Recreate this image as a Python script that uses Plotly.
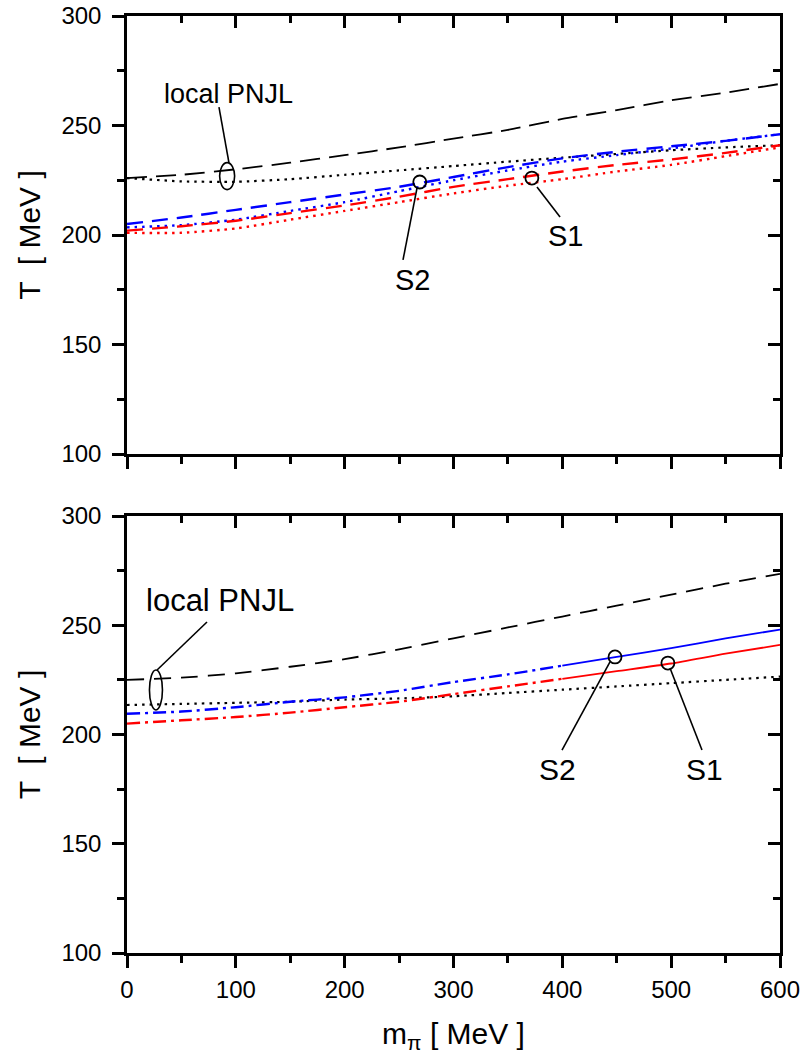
import plotly.graph_objects as go

# ---------------- data ----------------
m_pi = [0, 50, 100, 150, 200, 250, 300, 350, 400, 450, 500, 550, 600]

# upper panel
top_local_dash = [226, 227.5, 230, 233, 236.5, 240, 244, 248, 253, 257, 261.5, 265, 269]
top_local_dot = [226, 224.5, 224.3, 225.5, 227.5, 229.5, 231.5, 233.5, 235.3, 237, 238.7, 240, 241]
top_blue_dash = [205, 208, 211.5, 215, 218.5, 222, 226.5, 231, 235, 238, 240.5, 243, 246]
top_blue_dot = [203.5, 204.5, 207, 211, 215, 220, 225, 229.5, 233.5, 236.5, 239.5, 243, 246]
top_red_dash = [202, 204, 206.5, 210, 213.5, 217.5, 222, 225.5, 229, 232, 234.5, 237.5, 241]
top_red_dot = [201, 201, 203, 207, 211, 215, 219, 222.5, 225.5, 229, 232, 236, 240]

# lower panel
bot_local_dash = [225, 226, 228, 231, 234.5, 239, 244, 249, 254, 259, 264, 269, 273.5]
bot_local_dot = [213.5, 214, 214.5, 215, 216, 216.5, 217.5, 219, 220.5, 222, 223.5, 225, 226.5]
bot_blue = [209.5, 210.5, 212.5, 215, 217, 220, 224, 227.5, 231.5, 235.5, 239.5, 244, 248]
bot_red = [205, 206.5, 208, 210, 212.5, 215, 218.5, 222, 225.5, 229, 232.5, 237, 241]
split_index = 8  # dash-dot below, solid above m_pi = 400

# marked points (S1, S2)
top_s_m = [269, 372]
top_s_T = [224.2, 226]
bot_s_m = [448.4, 497]
bot_s_T = [235.5, 232.7]

x_ticks = [0, 100, 200, 300, 400, 500, 600]
y_ticks = [100, 150, 200, 250, 300]

FONT = "Liberation Sans, Arial, Helvetica, sans-serif"
BLUE = "#0000ff"
RED = "#ff0000"

fig = go.Figure()


def line(x, y, color, dash, xa, ya, width=2):
    fig.add_trace(go.Scatter(x=x, y=y, mode="lines", xaxis=xa, yaxis=ya,
                             line=dict(color=color, dash=dash, width=width, shape="spline", smoothing=0.6),
                             showlegend=False, hoverinfo="skip"))


LONGDASH = "20px,9px"
DOTS = "2.5px,5px"
CDASH = "16px,9px"
DASHDOT = "13px,5px,3px,5px"

# top panel
line(m_pi, top_local_dash, "black", LONGDASH, "x", "y", 1.8)
line(m_pi, top_local_dot, "black", DOTS, "x", "y", 2.2)
line(m_pi, top_blue_dash, BLUE, CDASH, "x", "y", 2.4)
line(m_pi, top_blue_dot, BLUE, DOTS, "x", "y", 2.4)
line(m_pi, top_red_dash, RED, CDASH, "x", "y", 2.4)
line(m_pi, top_red_dot, RED, DOTS, "x", "y", 2.4)

# bottom panel
line(m_pi, bot_local_dash, "black", "17px,10px", "x2", "y2", 1.8)
line(m_pi, bot_local_dot, "black", DOTS, "x2", "y2", 2.2)
line(m_pi[:split_index + 1], bot_blue[:split_index + 1], BLUE, DASHDOT, "x2", "y2", 2.4)
line(m_pi[split_index:], bot_blue[split_index:], BLUE, "solid", "x2", "y2", 1.8)
line(m_pi[:split_index + 1], bot_red[:split_index + 1], RED, DASHDOT, "x2", "y2", 2.4)
line(m_pi[split_index:], bot_red[split_index:], RED, "solid", "x2", "y2", 1.8)

# circles marking S1 / S2 (on overlay axes so they are drawn)
fig.add_trace(go.Scatter(x=top_s_m, y=top_s_T, mode="markers", xaxis="x3", yaxis="y3",
                         marker=dict(symbol="circle-open", size=13, color="black", line=dict(width=1.8)),
                         showlegend=False, hoverinfo="skip"))
fig.add_trace(go.Scatter(x=bot_s_m, y=bot_s_T, mode="markers", xaxis="x4", yaxis="y4",
                         marker=dict(symbol="circle-open", size=13, color="black", line=dict(width=1.8)),
                         showlegend=False, hoverinfo="skip"))

# ---------------- layout ----------------
xdom = [127 / 804, 780 / 804]
top_dom = [1 - 454 / 1059, 1 - 16 / 1059]
bot_dom = [1 - 953 / 1059, 1 - 516 / 1059]

tickfont = dict(family=FONT, size=24, color="black")
common = dict(showline=True, linewidth=2.5, linecolor="black", showgrid=False, zeroline=False,
              ticklen=12, tickwidth=2.5, tickcolor="black", tickfont=tickfont, automargin=False)


def xax(domain, anchor, side, ticks, labels, title=None, overlaying=None):
    d = dict(common, domain=domain, anchor=anchor, side=side, ticks=ticks, range=[0, 600],
             tickvals=x_ticks, showticklabels=labels, ticklabelstandoff=1,
             minor=dict(dtick=50, tick0=0, ticklen=7, tickwidth=2.5, tickcolor="black", ticks=ticks, showgrid=False))
    if overlaying:
        d["overlaying"] = overlaying
    if title:
        d["title"] = dict(text=title, font=dict(family=FONT, size=30, color="black"), standoff=22)
    return d


def yax(domain, anchor, side, ticks, labels, title=None, overlaying=None):
    d = dict(common, domain=domain, anchor=anchor, side=side, ticks=ticks, range=[100, 300],
             tickvals=y_ticks, showticklabels=labels, ticklabelstandoff=6,
             minor=dict(dtick=25, tick0=100, ticklen=7, tickwidth=2.5, tickcolor="black", ticks=ticks, showgrid=False))
    if overlaying:
        d["overlaying"] = overlaying
    if title:
        d["title"] = dict(text=title, font=dict(family=FONT, size=30, color="black"), standoff=12)
    return d


fig.update_layout(
    width=804, height=1059,
    margin=dict(l=0, r=0, t=0, b=0, autoexpand=False),
    paper_bgcolor="white", plot_bgcolor="white",
    font=dict(family=FONT, color="black"),
    xaxis=xax(xdom, "y", "bottom", "outside", False),
    yaxis=yax(top_dom, "x", "left", "outside", True, "T  [ MeV ]"),
    xaxis2=xax(xdom, "y2", "bottom", "outside", True, "m<sub>π</sub> [ MeV ]"),
    yaxis2=yax(bot_dom, "x2", "left", "outside", True, "T  [ MeV ]"),
    xaxis3=xax(xdom, "y", "top", "inside", False, overlaying="x"),
    yaxis3=yax(top_dom, "x", "right", "inside", False, overlaying="y"),
    xaxis4=xax(xdom, "y2", "top", "inside", False, overlaying="x2"),
    yaxis4=yax(bot_dom, "x2", "right", "inside", False, overlaying="y2"),
)

# ---------------- annotations ----------------
labels = [
    # text, x, y, xref, yref, size
    ("local PNJL", 92.8, 264.4, "x", "y", 27),
    ("S2", 261.9, 179.5, "x", "y", 29),
    ("S1", 402.5, 199.5, "x", "y", 29),
    ("local PNJL", 85.5, 261.1, "x2", "y2", 31),
    ("S2", 396, 183.8, "x2", "y2", 30),
    ("S1", 531, 183.8, "x2", "y2", 30),
]
for t, x, y, xr, yr, s in labels:
    fig.add_annotation(text=t, x=x, y=y, xref=xr, yref=yr, showarrow=False,
                       font=dict(family=FONT, size=s, color="black"), xanchor="center", yanchor="middle")

leaders = [
    (84.5, 258.4, 93.7, 232.9, "x", "y"),
    (266.5, 221.5, 253.6, 188.6, "x", "y"),
    (376.7, 221.9, 397.9, 208.2, "x", "y"),
    (73.5, 251.5, 27.6, 229.5, "x2", "y2"),
    (443.8, 233.2, 399.7, 192.9, "x2", "y2"),
    (498.9, 230.4, 528.3, 192.9, "x2", "y2"),
]
for x0, y0, x1, y1, xr, yr in leaders:
    fig.add_shape(type="line", x0=x0, y0=y0, x1=x1, y1=y1, xref=xr, yref=yr,
                  line=dict(color="black", width=1.6))

ellipses = [
    (92.0, 226.9, 15, 27, "x", "y"),
    (26.6, 220.4, 13, 40, "x2", "y2"),
]
for cx, cy, w, h, xr, yr in ellipses:
    fig.add_shape(type="circle", xref=xr, yref=yr, xsizemode="pixel", ysizemode="pixel",
                  xanchor=cx, yanchor=cy, x0=-w / 2, x1=w / 2, y0=-h / 2, y1=h / 2,
                  line=dict(color="black", width=1.6))

fig.write_html("out.html", config={"displayModeBar": False},
               post_script="document.body.style.margin='0px';")
